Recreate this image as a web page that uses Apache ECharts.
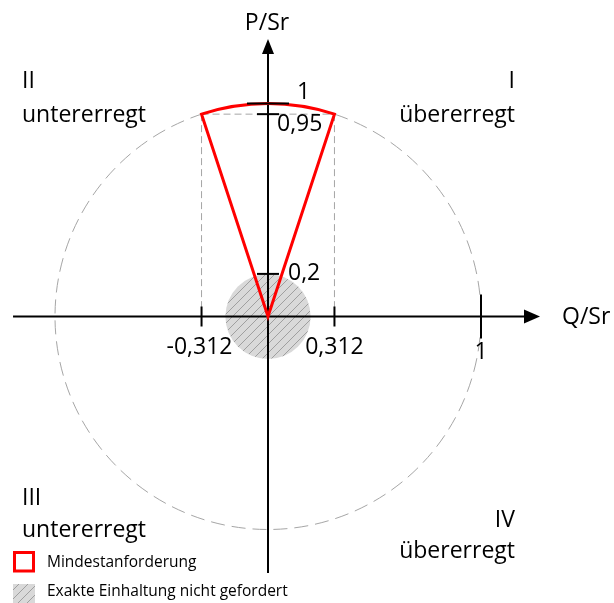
<!DOCTYPE html>
<html><head><meta charset="utf-8">
<script src="https://cdn.jsdelivr.net/npm/echarts@6/dist/echarts.min.js"></script>
<style>html,body{margin:0;padding:0;background:#fff}#c{width:614px;height:603px}</style>
</head><body><div id="c"></div>
<script>
// ---- data ----
const xTickValues = [-0.312, 0.312, 1];
const xTickLabels = ['-0,312', '0,312', '1'];
const yTickValues = [0.2, 0.95, 1];
const yTickLabels = ['0,2', '0,95', '1'];
const sectorQ = [-0.312, 0.312];
const sectorP = 0.95;
const ratedCircle = 1;
const exemptRadius = 0.2;
const quadrantNames = ['I', 'II', 'III', 'IV'];
const quadrantModes = ['übererregt', 'untererregt', 'untererregt', 'übererregt'];
const legendNames = ['Mindestanforderung', 'Exakte Einhaltung nicht gefordert'];
const axisNames = ['Q/Sr', 'P/Sr'];
const qAxisExtent = [-1.197, 1.277];
const pAxisExtent = [-1.204, 1.303];

const FONT = '"Open Sans", sans-serif';
const BIG = 23;

function hatchCanvas(bg, line, size) {
  const c = document.createElement('canvas');
  c.width = size; c.height = size;
  const g = c.getContext('2d');
  g.fillStyle = bg; g.fillRect(0, 0, size, size);
  g.strokeStyle = line; g.lineWidth = 1;
  g.beginPath();
  g.moveTo(-1, size + 1); g.lineTo(size + 1, -1);
  g.moveTo(-2, 2); g.lineTo(2, -2);
  g.moveTo(size - 2, size + 2); g.lineTo(size + 2, size - 2);
  g.stroke();
  return c;
}
const hatch = hatchCanvas('#d9d9d9', '#9f9f9f', 9);

function txt(text, x, y, align, size) {
  return { type: 'text', x: x, y: y, style: { text: text, fill: '#000', fontSize: size || BIG, fontFamily: FONT, align: align || 'left', verticalAlign: 'middle' } };
}

function renderItem(params, api) {
  const o = api.coord([0, 0]);
  const u = api.size([1, 1]);
  const C = (q, p) => api.coord([q, p]);
  const ch = [];
  // rated circle (dashed)
  ch.push({ type: 'circle', shape: { cx: o[0], cy: o[1], r: ratedCircle * u[0] },
    style: { fill: 'none', stroke: '#a6a6a6', lineWidth: 1, lineDash: [14, 7] } });
  // guide lines
  const a = C(sectorQ[0], sectorP), b = C(sectorQ[1], sectorP);
  const dashStyle = { stroke: '#a6a6a6', lineWidth: 1, lineDash: [7, 4] };
  ch.push({ type: 'line', shape: { x1: a[0], y1: a[1], x2: b[0], y2: b[1] }, style: dashStyle });
  sectorQ.forEach(q => {
    const t = C(q, sectorP), f = C(q, 0);
    ch.push({ type: 'line', shape: { x1: t[0], y1: t[1], x2: f[0], y2: f[1] }, style: dashStyle });
  });
  // exempt circle (hatched)
  ch.push({ type: 'circle', shape: { cx: o[0], cy: o[1], r: exemptRadius * u[0] },
    style: { fill: { image: hatch, repeat: 'repeat' }, stroke: null } });
  // axes
  const xa = C(qAxisExtent[0], 0), xb = C(qAxisExtent[1], 0);
  const ya = C(0, pAxisExtent[0]), yb = C(0, pAxisExtent[1]);
  ch.push({ type: 'line', shape: { x1: xa[0], y1: xa[1], x2: xb[0] - 10, y2: xb[1] }, style: { stroke: '#000', lineWidth: 2 } });
  ch.push({ type: 'line', shape: { x1: ya[0], y1: ya[1], x2: yb[0], y2: yb[1] + 10 }, style: { stroke: '#000', lineWidth: 2 } });
  ch.push({ type: 'polygon', shape: { points: [[xb[0], xb[1]], [xb[0] - 16, xb[1] - 7], [xb[0] - 16, xb[1] + 7]] }, style: { fill: '#000' } });
  ch.push({ type: 'polygon', shape: { points: [[yb[0], yb[1]], [yb[0] - 6, yb[1] + 15], [yb[0] + 6, yb[1] + 15]] }, style: { fill: '#000' } });
  // red sector
  ch.push({ type: 'sector', shape: { cx: o[0], cy: o[1], r0: 0, r: ratedCircle * u[0],
      startAngle: Math.atan2(-sectorP, sectorQ[0]), endAngle: Math.atan2(-sectorP, sectorQ[1]), clockwise: true },
    style: { fill: 'none', stroke: '#ff0000', lineWidth: 3, lineJoin: 'miter' } });
  // ticks
  const xTickHalf = [10, 10, 22];
  xTickValues.forEach((v, i) => {
    const p = C(v, 0);
    ch.push({ type: 'line', shape: { x1: p[0], y1: p[1] - xTickHalf[i], x2: p[0], y2: p[1] + xTickHalf[i] }, style: { stroke: '#000', lineWidth: 2 } });
  });
  const yTickHalf = [11, 11, 21];
  yTickValues.forEach((v, i) => {
    const p = C(0, v);
    ch.push({ type: 'line', shape: { x1: p[0] - yTickHalf[i], y1: p[1], x2: p[0] + yTickHalf[i], y2: p[1] }, style: { stroke: '#000', lineWidth: 2 } });
  });
  // tick labels
  const xLabOff = [[-2, 31], [0, 31], [0, 36]];
  xTickValues.forEach((v, i) => {
    const p = C(v, 0);
    ch.push(txt(xTickLabels[i], p[0] + xLabOff[i][0], p[1] + xLabOff[i][1], 'center'));
  });
  const yOff = [[20, 0], [9, 10], [29, -11]];
  yTickValues.forEach((v, i) => {
    const p = C(0, v);
    ch.push(txt(yTickLabels[i], p[0] + yOff[i][0], p[1] + yOff[i][1], 'left'));
  });
  // axis names
  ch.push(txt(axisNames[0], xb[0] + 22, xb[1] + 1, 'left'));
  ch.push(txt(axisNames[1], yb[0] - 1, yb[1] - 16, 'center'));
  return { type: 'group', children: ch };
}

const chart = echarts.init(document.getElementById('c'), null, { renderer: 'canvas' });
chart.setOption({
  animation: false,
  backgroundColor: '#fff',
  grid: { left: 268 - 1.25 * 213, width: 2.5 * 213, top: 316.5 - 1.3 * 213, height: 2.6 * 213 },
  xAxis: { type: 'value', min: -1.25, max: 1.25, show: false },
  yAxis: { type: 'value', min: -1.3, max: 1.3, show: false },
  series: [{ type: 'custom', renderItem: renderItem, data: [[0, 0]], clip: false, silent: true }],
  graphic: [
    txt(quadrantNames[1], 22, 81, 'left'),
    txt(quadrantModes[1], 22, 115, 'left'),
    txt(quadrantNames[0], 515, 81, 'right'),
    txt(quadrantModes[0], 515, 115, 'right'),
    txt(quadrantNames[2], 22, 498, 'left'),
    txt(quadrantModes[2], 22, 530, 'left'),
    txt(quadrantNames[3], 515, 520, 'right'),
    txt(quadrantModes[3], 515, 551, 'right'),
    { type: 'rect', shape: { x: 14.5, y: 552.5, width: 19, height: 18.5 }, style: { fill: '#fff', stroke: '#ff0000', lineWidth: 3 } },
    { type: 'rect', shape: { x: 13, y: 584, width: 22, height: 19 }, style: { fill: { image: hatch, repeat: 'repeat' } } },
    txt(legendNames[0], 47, 563, 'left', 15.5),
    txt(legendNames[1], 47, 592, 'left', 15.5)
  ]
});
</script></body></html>
